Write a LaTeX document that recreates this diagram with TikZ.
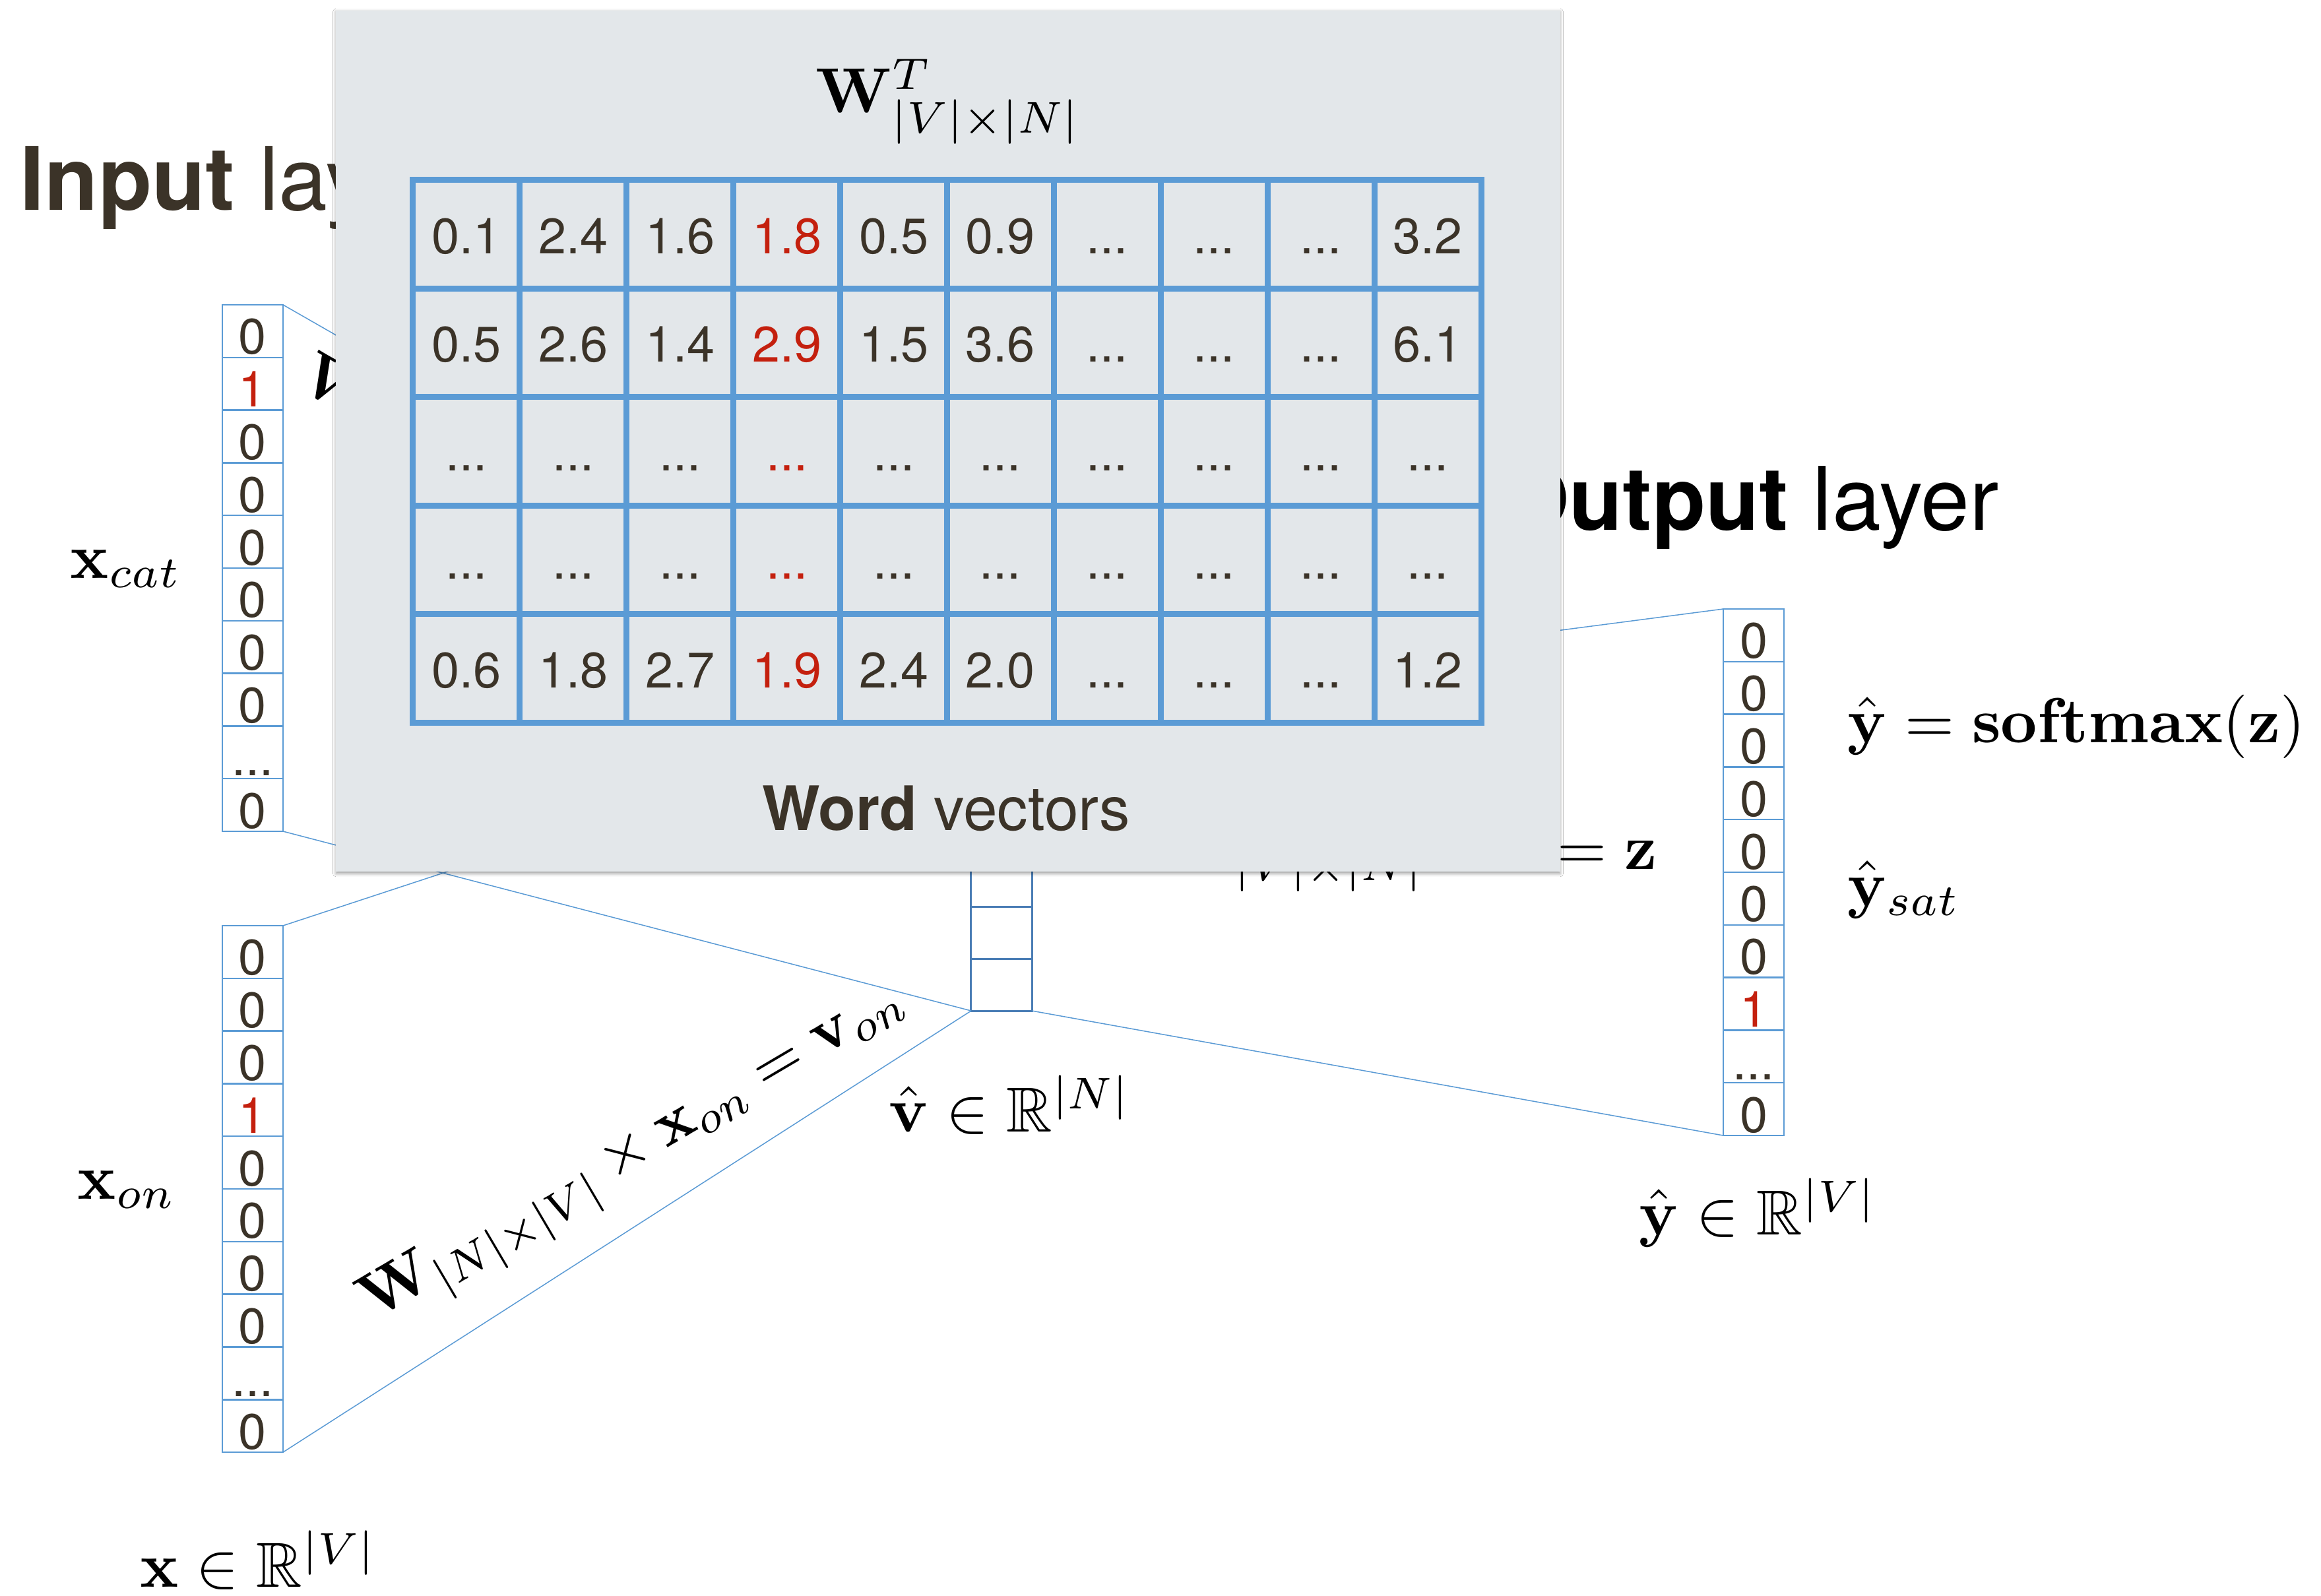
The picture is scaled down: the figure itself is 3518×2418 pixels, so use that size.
\documentclass[tikz,border=0pt]{standalone}
\usepackage[no-math]{fontspec}
\usepackage{amsmath,amssymb}
% optical sizes as if the formulas were set at 10pt and then enlarged
\DeclareFontShape{OML}{cmm}{m}{it}{<-17>cmmi5<17-24>cmmi7<24->cmmi10}{}
\DeclareFontShape{OML}{cmm}{b}{it}{<-17>cmmib5<17-24>cmmib7<24->cmmib10}{}
\DeclareFontShape{OMS}{cmsy}{m}{n}{<-17>cmsy5<17-24>cmsy7<24->cmsy10}{}
\DeclareFontShape{OMX}{cmex}{m}{n}{<->cmex10}{}
\DeclareFontShape{OT1}{cmr}{m}{n}{<-17>cmr5<17-24>cmr7<24->cmr10}{}
\DeclareFontShape{OT1}{cmr}{bx}{n}{<-17>cmbx5<17-24>cmbx7<24->cmbx10}{}
\DeclareFontFamily{U}{msb}{}
\DeclareFontShape{U}{msb}{m}{n}{<-17>msbm5<17-24>msbm7<24->msbm10}{}
\newfontfamily\hel{TeX Gyre Heros}
\usetikzlibrary{shadows.blur}
\definecolor{panelgray}{HTML}{E3E7EA}
\definecolor{mblue}{HTML}{5B9BD5}
\definecolor{hblue}{HTML}{4A7DB5}
\definecolor{inkc}{HTML}{3B3328}
\definecolor{hot}{HTML}{C4200E}
\newcommand{\mydots}{...}
\newcommand{\redv}[1]{\textcolor{hot}{#1}}
\newcommand{\digfont}{\hel\fontsize{21.5}{25}\selectfont}
\newcommand{\mfont}{\fontsize{27.4}{33}\selectfont}
\tikzset{
  vcell/.style={draw=mblue, line width=0.025cm, minimum width=0.92cm, inner xsep=0pt, inner ysep=0pt,
    outer sep=0pt, text height=0.748cm, text depth=0.05cm, font=\digfont, text=inkc},
  hcell/.style={draw=hblue, line width=0.03cm, minimum width=0.92cm, minimum height=0.787cm,
    inner sep=0pt, outer sep=0pt},
  mcell/.style={draw=mblue, line width=0.09cm, minimum width=1.619cm, inner xsep=0pt, inner ysep=0pt,
    outer sep=0pt, text height=1.114cm, text depth=0.53cm, font=\digfont, text=inkc},
  conn/.style={draw=mblue, line width=0.015cm},
  mathlbl/.style={font=\mfont, inner sep=0pt, text=black},
  bigtxt/.style={font=\hel\fontsize{37.8}{44}\selectfont, inner sep=0pt},
  paneltxt/.style={font=\hel\fontsize{26.4}{31}\selectfont, inner sep=0pt, text=inkc},
  panelbox/.style={fill=panelgray, inner sep=0pt,
    blur shadow={shadow xshift=0cm, shadow yshift=-0.025cm, shadow blur radius=0.05cm, shadow opacity=40}}
}
\begin{document}
\begin{tikzpicture}[x=0.01cm, y=-0.01cm]
\useasboundingbox (0,0) rectangle (3518,2418);
\fill[white] (0,0) rectangle (3518,2418);

% layer titles
\node[bigtxt, text=inkc, anchor=base west] (inlayer) at (30,318) {{\bfseries Input} layer};
\node[bigtxt, text=black, anchor=base east] (outlayer) at (3030,803) {{\bfseries Output} layer};

% labels partly hidden behind the panel
\node[mathlbl, anchor=base west, rotate=-30] (lwcat) at (448,586) {$\mathbf{W}$};
\node[mathlbl, anchor=base east] (lz) at (2512,1317)
  {$\mathbf{W}_{|V|\times|N|}\times\hat{\mathbf{v}}=\mathbf{z}$};

% hidden layer column
\foreach \i in {1,...,6}
  \node[hcell] (h\i) at (1518,{1020.45+78.7*\i}) {};

% input columns
\foreach \v [count=\i] in {0,\redv{1},0,0,0,0,0,0,\mydots,0}
  \node[vcell] (xc\i) at (383,{422.1+79.8*\i}) {\v};
\foreach \v [count=\i] in {0,0,0,\redv{1},0,0,0,0,\mydots,0}
  \node[vcell] (xo\i) at (383,{1363.1+79.8*\i}) {\v};
% output column
\foreach \v [count=\i] in {0,0,0,0,0,0,0,\redv{1},\mydots,0}
  \node[vcell] (yo\i) at (2658,{883.1+79.8*\i}) {\v};

% connectors
\draw[conn] (xc1.north east) -- (h1.north west);
\draw[conn] (xc10.south east) -- (h6.south west);
\draw[conn] (xo1.north east) -- (h1.north west);
\draw[conn] (xo10.south east) -- (h6.south west);
\draw[conn] (h1.north east) -- (yo1.north west);
\draw[conn] (h6.south east) -- (yo10.south west);

% rotated label along lower input
\node[mathlbl, anchor=base west, rotate=30.5] (lwon) at (565,2003)
  {$\mathbf{W}_{|N|\times|V|}\times\mathbf{x}_{on}=\mathbf{v}_{on}$};

% word vector panel
\node[panelbox, minimum width=18.54cm, minimum height=13.05cm] (panel) at (1437,668.5) {};
\node[mathlbl, anchor=base] (wtitle) at (1436,170) {$\mathbf{W}^{T}_{|V|\times|N|}$};
\foreach \rowvals [count=\r] in {
  {0.1,2.4,1.6,\redv{1.8},0.5,0.9,\mydots,\mydots,\mydots,3.2},
  {0.5,2.6,1.4,\redv{2.9},1.5,3.6,\mydots,\mydots,\mydots,6.1},
  {\mydots,\mydots,\mydots,\redv{\mydots},\mydots,\mydots,\mydots,\mydots,\mydots,\mydots},
  {\mydots,\mydots,\mydots,\redv{\mydots},\mydots,\mydots,\mydots,\mydots,\mydots,\mydots},
  {0.6,1.8,2.7,\redv{1.9},2.4,2.0,\mydots,\mydots,\mydots,1.2}}{
  \foreach \v [count=\c] in \rowvals
    \node[mcell] (m\r-\c) at ({545.05+161.9*\c},{190.8+164.4*\r}) {\v};
}
\node[paneltxt, anchor=base] (wv) at (1434,1258) {{\bfseries Word} vectors};

% math labels
\node[mathlbl, anchor=base west] (lxcat) at (106,876) {$\mathbf{x}_{cat}$};
\node[mathlbl, anchor=base west] (lxon) at (117,1817) {$\mathbf{x}_{on}$};
\node[mathlbl, anchor=base west] (lx) at (212,2405) {$\mathbf{x}\in\mathbb{R}^{|V|}$};
\node[mathlbl, anchor=base west] (lv) at (1347,1715) {$\hat{\mathbf{v}}\in\mathbb{R}^{|N|}$};
\node[mathlbl, anchor=base west] (ly) at (2484,1871) {$\hat{\mathbf{y}}\in\mathbb{R}^{|V|}$};
\node[mathlbl, anchor=base west] (lsm) at (2800,1125) {$\hat{\mathbf{y}}=\mathbf{softmax}(\mathbf{z})$};
\node[mathlbl, anchor=base west] (lysat) at (2800,1373) {$\hat{\mathbf{y}}_{sat}$};
\end{tikzpicture}
\end{document}
